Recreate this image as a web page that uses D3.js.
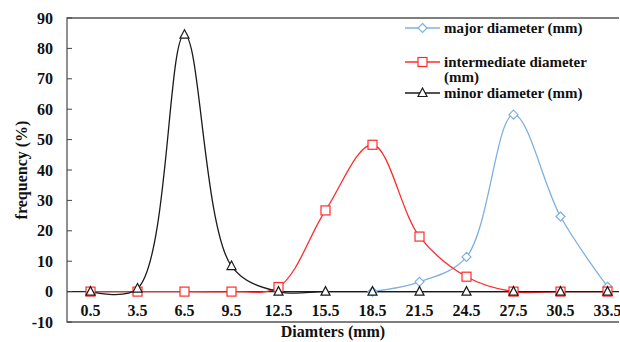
<!DOCTYPE html>
<html>
<head>
<meta charset="utf-8">
<script src="https://cdn.jsdelivr.net/npm/d3@7"></script>
<style>
    body { margin: 0; background: #fff; }
    svg text { font-family: "Liberation Serif", "DejaVu Serif", "Times New Roman", serif; font-weight: bold; fill: #111; }
    .axis-label { font-size: 16px; }
    .tick-label { font-size: 16px; }
    .legend-label { font-size: 15px; }
</style>
</head>
<body>
<svg id="chart"></svg>
<script>
const categories = ['0.5', '3.5', '6.5', '9.5', '12.5', '15.5', '18.5', '21.5', '24.5', '27.5', '30.5', '33.5'];
const majorValues = [null, null, null, null, null, null, 0, 3.2, 11.4, 58.2, 24.7, 1.6];
const intermediateValues = [0, 0, 0, 0, 1.5, 26.7, 48.3, 18.1, 4.9, 0, 0, 0];
const minorValues = [0, 1, 84.5, 8.4, 0, 0, 0, 0, 0, 0, 0, 0];
const yTicks = [-10, 0, 10, 20, 30, 40, 50, 60, 70, 80, 90];
const seriesNames = ['major diameter (mm)', 'intermediate diameter (mm)', 'minor diameter (mm)'];

class diameterChart {

    constructor(_config) {
        this.config = {
            parentElement: _config.parentElement,
            containerWidth: _config.containerWidth || 620,
            containerHeight: _config.containerHeight || 342,
            margin: _config.margin || { top: 18, right: 0, bottom: 20, left: 67 }
        }
        this.initVis();
    }

    initVis() {
        let vis = this;

        vis.height = vis.config.containerHeight - vis.config.margin.top - vis.config.margin.bottom;

        vis.svg = d3.select(vis.config.parentElement)
            .attr('width', vis.config.containerWidth)
            .attr('height', vis.config.containerHeight);

        // category bands are 47px wide, the last one runs past the picture edge
        vis.xScale = d3.scaleBand()
            .domain(categories)
            .range([0, categories.length * 47]);

        vis.yScale = d3.scaleLinear()
            .domain([-10, 90])
            .range([vis.height, 0]);

        vis.chart = vis.svg.append('g')
            .attr('transform', `translate(${vis.config.margin.left},${vis.config.margin.top})`);

        vis.plotWidth = vis.config.containerWidth - vis.config.margin.left - 1;

        vis.series = [
            { name: seriesNames[0], values: majorValues, color: '#7eb0e0', symbol: 'diamond' },
            { name: seriesNames[1], values: intermediateValues, color: '#ff2b2b', symbol: 'square' },
            { name: seriesNames[2], values: minorValues, color: '#1a1a1a', symbol: 'triangle' }
        ];

        vis.updateVis();
    }

    updateVis() {
        let vis = this;

        vis.xValue = (d, i) => vis.xScale(categories[i]) + vis.xScale.bandwidth() / 2;
        vis.line = d3.line()
            .defined(d => d !== null)
            .x(vis.xValue)
            .y(d => vis.yScale(d))
            .curve(d3.curveCatmullRom.alpha(0.5));

        vis.renderVis();
    }

    marker(sel, symbol, color) {
        if (symbol === 'diamond') {
            sel.append('path').attr('d', 'M0,-4.5L4.5,0L0,4.5L-4.5,0Z');
        } else if (symbol === 'square') {
            sel.append('rect').attr('x', -4.5).attr('y', -4.5).attr('width', 9).attr('height', 9);
        } else {
            sel.append('path').attr('d', 'M0,-5L4.5,3.5L-4.5,3.5Z');
        }
        sel.selectAll('*')
            .attr('fill', '#fff')
            .attr('stroke', color)
            .attr('stroke-width', 1.2);
    }

    renderVis() {
        let vis = this;

        // frame: top, left and bottom lines
        vis.chart.append('path')
            .attr('d', `M${vis.plotWidth},0H0V${vis.height}H${vis.plotWidth}`)
            .attr('fill', 'none')
            .attr('stroke', '#555')
            .attr('stroke-width', 1.3);

        // zero line
        vis.chart.append('line')
            .attr('x1', 0)
            .attr('x2', vis.plotWidth)
            .attr('y1', vis.yScale(0))
            .attr('y2', vis.yScale(0))
            .attr('stroke', '#222')
            .attr('stroke-width', 1.2);

        // y ticks and labels
        const yAxis = vis.chart.append('g').attr('class', 'y-axis');
        yAxis.selectAll('line')
            .data(yTicks)
            .join('line')
            .attr('x1', 0).attr('x2', 5)
            .attr('y1', d => vis.yScale(d)).attr('y2', d => vis.yScale(d))
            .attr('stroke', '#444');
        yAxis.selectAll('text')
            .data(yTicks)
            .join('text')
            .attr('class', 'tick-label')
            .attr('x', -14)
            .attr('y', d => vis.yScale(d))
            .attr('dy', '0.35em')
            .style('text-anchor', 'end')
            .text(d => d);

        // x labels
        vis.chart.append('g').selectAll('text')
            .data(categories)
            .join('text')
            .attr('class', 'tick-label')
            .attr('x', d => vis.xScale(d) + vis.xScale.bandwidth() / 2)
            .attr('y', vis.yScale(0) + 24)
            .style('text-anchor', 'middle')
            .text(d => d);

        // lines and markers
        vis.series.forEach(s => {
            vis.chart.append('path')
                .datum(s.values)
                .attr('d', vis.line)
                .attr('fill', 'none')
                .attr('stroke', s.color)
                .attr('stroke-width', 1.3);
        });
        vis.series.forEach(s => {
            vis.chart.append('g')
                .selectAll('g')
                .data(s.values.map((v, i) => ({ v, i })).filter(d => d.v !== null))
                .join('g')
                .attr('transform', d => `translate(${vis.xValue(d.v, d.i)},${vis.yScale(d.v)})`)
                .each(function() { vis.marker(d3.select(this), s.symbol, s.color); });
        });

        // axis titles
        vis.svg.append('text')
            .attr('class', 'axis-label')
            .attr('transform', 'translate(27,170) rotate(-90)')
            .style('text-anchor', 'middle')
            .text('frequency (%)');

        vis.svg.append('text')
            .attr('class', 'axis-label')
            .attr('x', 333)
            .attr('y', 337)
            .style('text-anchor', 'middle')
            .text('Diamters (mm)');

        // legend
        const legendRows = [
            { s: vis.series[0], y: 28, lines: ['major diameter (mm)'] },
            { s: vis.series[1], y: 62, lines: ['intermediate diameter', '(mm)'] },
            { s: vis.series[2], y: 93, lines: ['minor diameter (mm)'] }
        ];
        const legend = vis.svg.append('g').attr('class', 'legend');
        legendRows.forEach(r => {
            legend.append('line')
                .attr('x1', 405).attr('x2', 440)
                .attr('y1', r.y).attr('y2', r.y)
                .attr('stroke', r.s.color)
                .attr('stroke-width', 1.3);
            const m = legend.append('g').attr('transform', `translate(422.5,${r.y})`);
            vis.marker(m, r.s.symbol, r.s.color);
            r.lines.forEach((t, k) => {
                legend.append('text')
                    .attr('class', 'legend-label')
                    .attr('x', 444)
                    .attr('y', r.y + 5 + k * 14.5)
                    .text(t);
            });
        });
    }
}

new diameterChart({ parentElement: '#chart' });
</script>
</body>
</html>
